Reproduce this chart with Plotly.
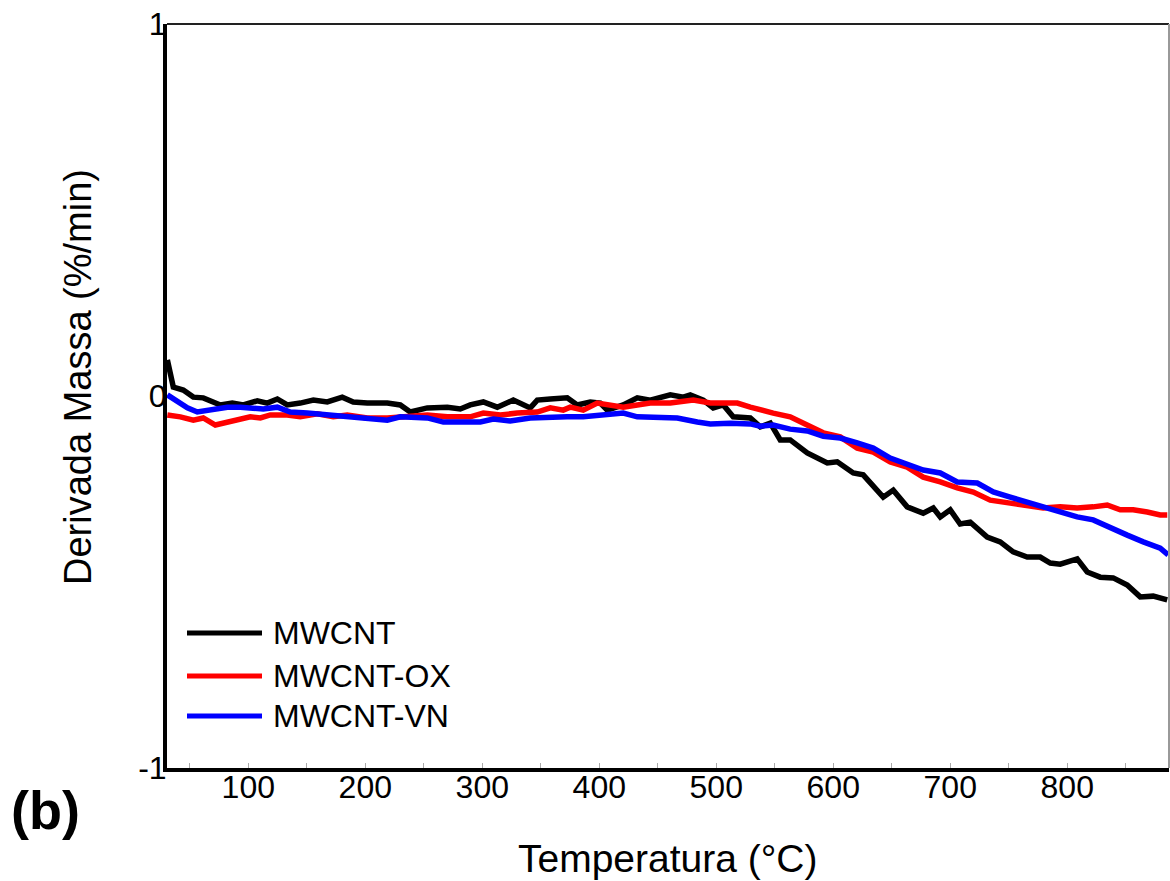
import plotly.graph_objects as go

# ---- data ----
temp_mwcnt = [30.8, 35.9, 44.4, 53.0, 61.5, 70.1, 76.1, 86.3, 95.7, 107.7, 116.2, 124.8, 133.3, 144.4,
              155.6, 167.5, 180.3, 189.7, 201.7, 218.8, 229.9, 238.5, 253.0, 270.1, 281.2, 289.7, 300.9,
              312.8, 326.5, 341.0, 347.0, 358.1, 372.6, 381.2, 392.3, 400.9, 406.8, 420.5, 432.5, 443.6,
              460.7, 471.8, 477.8, 488.9, 497.4, 506.0, 514.5, 529.1, 537.6, 546.2, 554.7, 563.2, 577.8,
              594.9, 603.4, 617.1, 625.6, 642.7, 651.3, 663.2, 676.9, 685.5, 691.5, 700.0, 708.5, 717.1,
              731.6, 742.7, 753.8, 765.8, 776.9, 785.5, 794.0, 808.5, 817.1, 828.2, 839.3, 851.3, 862.4,
              873.5, 885.5]
dtg_mwcnt = [0.097, 0.024, 0.016, -0.003, -0.005, -0.016, -0.024, -0.019, -0.024, -0.013, -0.019, -0.008,
             -0.024, -0.019, -0.011, -0.016, -0.003, -0.016, -0.019, -0.019, -0.024, -0.043, -0.032, -0.030,
             -0.035, -0.024, -0.016, -0.030, -0.011, -0.032, -0.011, -0.008, -0.005, -0.024, -0.016, -0.019,
             -0.038, -0.024, -0.005, -0.011, 0.003, -0.003, 0.003, -0.011, -0.032, -0.024, -0.056, -0.059,
             -0.083, -0.073, -0.118, -0.118, -0.153, -0.180, -0.177, -0.207, -0.212, -0.272, -0.253, -0.298,
             -0.315, -0.301, -0.325, -0.306, -0.344, -0.339, -0.379, -0.392, -0.419, -0.433, -0.433, -0.449,
             -0.452, -0.438, -0.473, -0.487, -0.489, -0.508, -0.540, -0.538, -0.548]

temp_ox = [30.8, 41.9, 53.0, 61.5, 71.8, 82.1, 93.2, 101.7, 110.3, 118.8, 133.3, 144.4, 159.0, 172.6,
           184.6, 201.7, 218.8, 235.9, 253.0, 270.1, 289.7, 300.9, 315.4, 329.9, 347.0, 358.1, 369.2,
           375.2, 386.3, 398.3, 409.4, 420.5, 432.5, 443.6, 460.7, 471.8, 480.3, 494.9, 506.0, 518.0,
           529.1, 537.6, 548.7, 563.2, 577.8, 591.5, 606.0, 620.5, 634.2, 648.7, 663.2, 676.9, 691.5,
           706.0, 719.7, 734.2, 751.3, 765.8, 779.5, 794.0, 808.5, 822.2, 834.2, 845.3, 856.4, 868.4,
           879.5, 885.5]
dtg_ox = [-0.051, -0.056, -0.065, -0.059, -0.078, -0.070, -0.062, -0.056, -0.059, -0.051, -0.051, -0.056,
          -0.048, -0.056, -0.051, -0.059, -0.059, -0.056, -0.051, -0.056, -0.056, -0.046, -0.051, -0.046,
          -0.043, -0.032, -0.038, -0.030, -0.038, -0.019, -0.024, -0.030, -0.024, -0.019, -0.019, -0.016,
          -0.011, -0.019, -0.019, -0.019, -0.030, -0.038, -0.046, -0.056, -0.078, -0.099, -0.110, -0.140,
          -0.151, -0.177, -0.191, -0.218, -0.231, -0.247, -0.258, -0.280, -0.288, -0.293, -0.301, -0.298,
          -0.301, -0.298, -0.293, -0.306, -0.306, -0.312, -0.320, -0.320]

temp_vn = [30.8, 39.3, 47.9, 56.4, 67.5, 82.1, 93.2, 101.7, 112.8, 124.8, 135.9, 150.4, 167.5, 184.6,
           201.7, 218.8, 229.9, 241.0, 253.0, 266.7, 281.2, 298.3, 309.4, 323.9, 341.0, 358.1, 372.6,
           386.3, 400.9, 420.5, 432.5, 449.6, 466.7, 483.8, 494.9, 512.0, 529.1, 537.6, 548.7, 563.2,
           577.8, 591.5, 606.0, 620.5, 634.2, 648.7, 663.2, 676.9, 691.5, 706.0, 723.1, 736.8, 751.3,
           765.8, 779.5, 794.0, 808.5, 822.2, 836.8, 851.3, 865.0, 879.5, 886.3]
dtg_vn = [0.003, -0.016, -0.032, -0.043, -0.038, -0.030, -0.030, -0.032, -0.035, -0.030, -0.043, -0.046,
          -0.051, -0.056, -0.059, -0.065, -0.056, -0.059, -0.059, -0.070, -0.070, -0.070, -0.062, -0.067,
          -0.059, -0.056, -0.056, -0.056, -0.051, -0.046, -0.056, -0.056, -0.059, -0.070, -0.075, -0.073,
          -0.075, -0.081, -0.078, -0.089, -0.094, -0.108, -0.113, -0.126, -0.140, -0.167, -0.185, -0.199,
          -0.207, -0.231, -0.234, -0.258, -0.272, -0.285, -0.301, -0.312, -0.325, -0.333, -0.355, -0.374,
          -0.392, -0.409, -0.427]

series_names = ["MWCNT", "MWCNT-OX", "MWCNT-VN"]
series_colors = ["#000000", "#ff0000", "#0000ff"]
x_tick_vals = [100, 200, 300, 400, 500, 600, 700, 800]
y_tick_vals = [-1, 0, 1]
y_tick_text = ["-1", "0", "1"]

FONT = "Liberation Sans, Arial, sans-serif"

fig = go.Figure()
for name, xs, ys, col in zip(series_names,
                             [temp_mwcnt, temp_ox, temp_vn],
                             [dtg_mwcnt, dtg_ox, dtg_vn],
                             series_colors):
    fig.add_trace(go.Scatter(x=xs, y=ys, mode="lines", name=name,
                             line=dict(color=col, width=5.5), showlegend=False))

L, R, T, B = 167, 1, 24, 113
W, H = 1170, 881
pw = W - L - R
ph = H - T - B

def px(xp):
    return (xp - L) / pw

def py(yp):
    return (H - B - yp) / ph

# manual legend
leg_rows = [633, 676, 716]
for name, col, yr in zip(series_names, series_colors, leg_rows):
    fig.add_shape(type="line", xref="paper", yref="paper",
                  x0=px(187), x1=px(262), y0=py(yr), y1=py(yr),
                  line=dict(color=col, width=5))
    fig.add_annotation(xref="paper", yref="paper", x=px(271), y=py(yr),
                       xanchor="left", yanchor="middle", text=name, showarrow=False,
                       font=dict(family=FONT, size=32, color="#000"))

# frame: thin top and right borders
fig.add_shape(type="line", xref="paper", yref="paper", x0=0, x1=1, y0=1, y1=1,
              line=dict(color="#222", width=2))
fig.add_shape(type="line", xref="paper", yref="paper", x0=1, x1=1, y0=0, y1=1,
              line=dict(color="#999", width=2))

# axis titles and panel label
fig.add_annotation(xref="paper", yref="paper", x=px(668), y=py(858),
                   xanchor="center", yanchor="middle", text="Temperatura (°C)",
                   showarrow=False, font=dict(family=FONT, size=39, color="#000"))
fig.add_annotation(xref="paper", yref="paper", x=px(78), y=py(377),
                   xanchor="center", yanchor="middle", text="Derivada Massa (%/min)",
                   textangle=-90, showarrow=False, font=dict(family=FONT, size=38, color="#000"))
fig.add_annotation(xref="paper", yref="paper", x=px(45), y=py(810),
                   xanchor="center", yanchor="middle", text="<b>(b)</b>",
                   showarrow=False, font=dict(family=FONT, size=54, color="#000"))

fig.update_layout(
    width=W, height=H,
    margin=dict(l=L, r=R, t=T, b=B, pad=0),
    paper_bgcolor="white", plot_bgcolor="white",
    font=dict(family=FONT, size=32, color="#000"),
    showlegend=False,
)
fig.update_xaxes(range=[30.5, 887], tickvals=x_tick_vals, ticks="inside", ticklen=5,
                 tickcolor="#aaa", tickwidth=1,
                 minor=dict(tickvals=[50, 150, 250, 350, 450, 550, 650, 750, 850],
                            ticks="inside", ticklen=5, tickcolor="#aaa", tickwidth=1),
                 showgrid=False, zeroline=False, showline=True, linecolor="#000", linewidth=4,
                 tickfont=dict(family=FONT, size=32, color="#000"), ticklabelstandoff=-12)
fig.update_yaxes(range=[-1, 1], tickvals=y_tick_vals, ticktext=y_tick_text, ticks="",
                 showgrid=False, zeroline=False, showline=True, linecolor="#000", linewidth=4,
                 tickfont=dict(family=FONT, size=32, color="#000"), ticklabelstandoff=-10)

fig.write_html(
    "out.html",
    config={"displayModeBar": False},
    post_script="document.body.style.margin='0';document.body.style.overflow='hidden';",
)
